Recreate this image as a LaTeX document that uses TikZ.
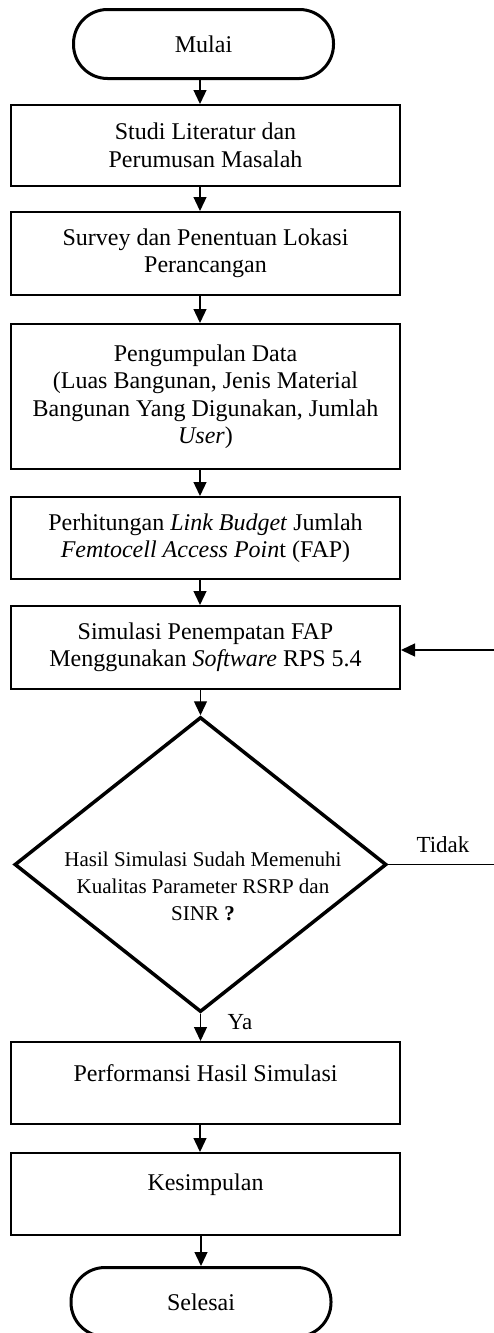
\documentclass[tikz,border=0pt]{standalone}
\usepackage{fontspec}
\setmainfont{Liberation Serif}
\usetikzlibrary{arrows.meta,shapes.geometric}
\begin{document}
\begin{tikzpicture}[x=1pt,y=-1pt,
  box/.style={draw,line width=2pt,minimum width=389pt,inner sep=0pt,align=center,font=\fontsize{24}{27.5}\selectfont},
  term/.style={draw,line width=3pt,rounded corners=34pt,inner sep=0pt,minimum width=260pt,minimum height=69pt,font=\fontsize{24}{27.5}\selectfont},
  conn/.style={line width=1.3pt,-{Triangle[length=14pt,width=13pt]}},
  lbl/.style={font=\fontsize{23}{27}\selectfont,inner sep=0pt},
  dtext/.style={align=center,inner sep=0pt,font=\fontsize{21}{27}\selectfont}
]
\useasboundingbox (0,0) rectangle (494,1333);
\coordinate (ax) at (200,0);
\coordinate (lr) at (499,650);

\node[term] (mulai) at (203.5,44) {Mulai};
\node[box,minimum height=81pt] (b1) at (205.5,145.5) {Studi Literatur dan\\Perumusan Masalah};
\node[box,minimum height=83pt] (b2) at (205.5,253.5) {Survey dan Penentuan Lokasi\\Perancangan};
\node[box,minimum height=145pt] (b3) at (205.5,396.5) {Pengumpulan Data\\(Luas Bangunan, Jenis Material\\Bangunan Yang Digunakan, Jumlah\\\textit{User})};
\node[box,minimum height=82pt] (b4) at (205.5,538) {Perhitungan \textit{Link Budget} Jumlah\\\textit{Femtocell Access Poin}t (FAP)};
\node[box,minimum height=83pt] (b5) at (205.5,647.5) {Simulasi Penempatan FAP\\Menggunakan \textit{Software} RPS 5.4};
\node[draw,diamond,line width=3.5pt,minimum width=372pt,minimum height=295pt,inner sep=0pt] (dia) at (200.5,864.5) {};
\node[dtext] (dq) at (203,886) {Hasil Simulasi Sudah Memenuhi\\Kualitas Parameter RSRP dan\\SINR \textbf{?}};
\node[box,minimum height=82pt,label={[yshift=10pt,font=\fontsize{24}{27.5}\selectfont]center:Performansi Hasil Simulasi}] (b6) at (205.5,1083) {};
\node[box,minimum height=82pt,label={[yshift=9pt,font=\fontsize{24}{27.5}\selectfont]center:Kesimpulan}] (b7) at (205.5,1194) {};
\node[term] (selesai) at (201,1302) {Selesai};

\node[lbl] (tidak) at (443,845) {Tidak};
\node[lbl] (ya) at (240,1022) {Ya};

\draw[conn] (mulai.south -| ax) -- (b1.north -| ax);
\draw[conn] (b1.south -| ax) -- (b2.north -| ax);
\draw[conn] (b2.south -| ax) -- (b3.north -| ax);
\draw[conn] (b3.south -| ax) -- (b4.north -| ax);
\draw[conn] (b4.south -| ax) -- (b5.north -| ax);
\draw[conn] (b5.south -| dia.north) -- (dia.north);
\draw[conn] (dia.south) -- (b6.north -| dia.south);
\draw[conn] (b6.south -| ax) -- (b7.north -| ax);
\draw[conn] (b7.south -| selesai.north) -- (selesai.north);
\draw[conn] (dia.east) -- (dia.east -| lr) -- (lr) -- (lr -| b5.east);
\end{tikzpicture}
\end{document}
